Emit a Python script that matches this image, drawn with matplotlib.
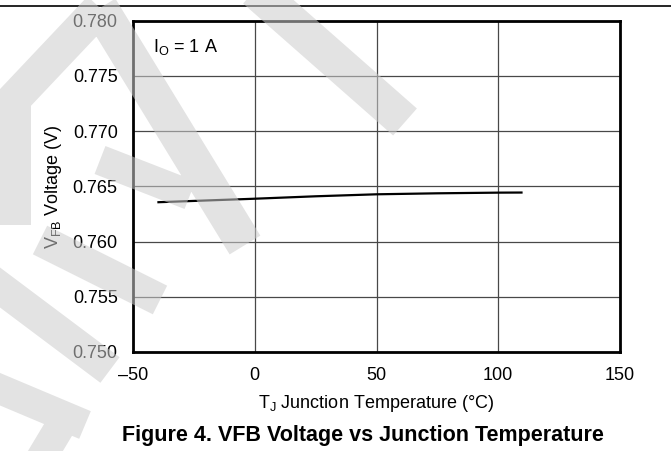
import numpy as np
import matplotlib
matplotlib.use("Agg")
import matplotlib.pyplot as plt
from matplotlib.path import Path
from matplotlib.patches import PathPatch
from matplotlib.lines import Line2D
from matplotlib.transforms import IdentityTransform

# ---- data ----
temp_c = [-40, -25, 0, 25, 50, 75, 100, 110]
vfb_v = [0.76356, 0.76368, 0.76388, 0.76410, 0.76428, 0.76437, 0.76443, 0.76444]
x_ticks = [-50, 0, 50, 100, 150]
x_tick_labels = ["\u201350", "0", "50", "100", "150"]
y_ticks = [0.750, 0.755, 0.760, 0.765, 0.770, 0.775, 0.780]
y_tick_labels = ["0.750", "0.755", "0.760", "0.765", "0.770", "0.775", "0.780"]

plt.rcParams['font.family'] = ['Liberation Sans', 'DejaVu Sans']
plt.rcParams['mathtext.fontset'] = 'custom'
plt.rcParams['mathtext.rm'] = 'Liberation Sans'
plt.rcParams['mathtext.it'] = 'Liberation Sans'

W, H = 671, 451
fig = plt.figure(figsize=(W / 100, H / 100), dpi=100)
ax = fig.add_axes([133 / W, 1 - 352 / H, (620 - 133) / W, (352 - 20.7) / H])

ax.plot(temp_c, vfb_v, color='black', lw=1.6, solid_capstyle='butt', zorder=3)
ax.set_xlim(-50, 150)
ax.set_ylim(0.750, 0.780)
ax.set_xticks(x_ticks)
ax.set_xticklabels(x_tick_labels)
ax.set_yticks(y_ticks)
ax.set_yticklabels(y_tick_labels)
ax.tick_params(length=0, labelsize=13, pad=11)
ax.grid(True, color='#484848', lw=0.9)
for s in ax.spines.values():
    s.set_linewidth(2.0)
    s.set_color('black')

ax.text(0.041, 0.92, r"I$_\mathregular{O}$ = 1 A", transform=ax.transAxes,
        fontsize=13, va='center', ha='left')

# labels
fig.text(53 / W, 1 - 187 / H, r"V$_\mathregular{FB}$ Voltage (V)", rotation=90,
         ha='center', va='center', fontsize=13)
fig.text(376.5 / W, 1 - 404 / H, r"T$_\mathregular{J}$ Junction Temperature (°C)",
         ha='center', va='center', fontsize=13)
fig.text(363 / W, 1 - 435 / H, "Figure 4. VFB Voltage vs Junction Temperature",
         ha='center', va='center', fontsize=15.5, fontweight='bold')

# top rule
fig.add_artist(Line2D([0, 1], [1 - 6 / H, 1 - 6 / H], transform=fig.transFigure,
                      color='black', lw=1.2))

# ---- watermark (approximate strokes, image px coords, y down) ----
strokes = [
    ((100, 8), (-20, 135), 34),
    ((15, 95), (15, 225), 32),
    ((100, 8), (245, 245), 36),
    ((100, 160), (190, 195), 30),
    ((255, -10), (405, 122), 36),
    ((40, 240), (160, 300), 32),
    ((-10, 280), (110, 370), 32),
    ((-10, 385), (85, 425), 30),
    ((70, 410), (40, 460), 30),
]
verts, codes = [], []
for (x0, y0), (x1, y1), w in strokes:
    d = np.array([x1 - x0, y1 - y0], float)
    d /= np.linalg.norm(d)
    n = np.array([-d[1], d[0]]) * w / 2
    p0, p1 = np.array([x0, y0], float), np.array([x1, y1], float)
    pts = [p0 + n, p1 + n, p1 - n, p0 - n, p0 + n]
    for i, p in enumerate(pts):
        verts.append((p[0], H - p[1]))
        codes.append(Path.MOVETO if i == 0 else (Path.CLOSEPOLY if i == 4 else Path.LINETO))
wm = PathPatch(Path(verts, codes), transform=IdentityTransform(),
               facecolor=(0.80, 0.80, 0.80), edgecolor='none', alpha=0.55, zorder=10)
fig.add_artist(wm)

fig.savefig("out.png", dpi=100)
